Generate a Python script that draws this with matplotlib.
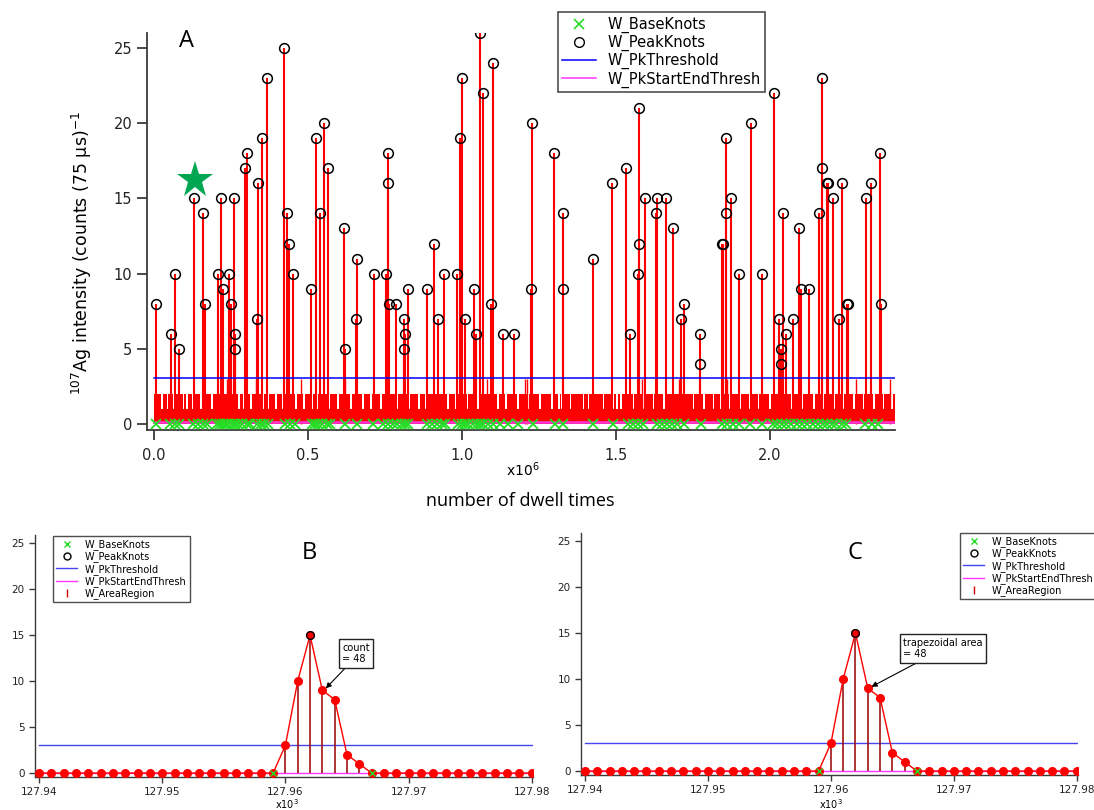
import matplotlib.pyplot as plt
import numpy as np
from matplotlib.lines import Line2D

# ---- panel A : whole time trace (x in units of 1e6 dwell times) ----
peak_x = [0.006, 0.055, 0.067, 0.081, 0.131, 0.159, 0.167, 0.208, 0.216, 0.224,
          0.242, 0.249, 0.259, 0.264, 0.263, 0.294, 0.301, 0.334, 0.339, 0.352,
          0.367, 0.422, 0.433, 0.438, 0.452, 0.510, 0.526, 0.538, 0.552, 0.564,
          0.618, 0.619, 0.659, 0.656, 0.714, 0.752, 0.759, 0.759, 0.763, 0.785,
          0.811, 0.815, 0.813, 0.826, 0.885, 0.910, 0.922, 0.943, 0.984, 0.993,
          0.999, 1.010, 1.040, 1.047, 1.057, 1.069, 1.094, 1.102, 1.134, 1.168,
          1.224, 1.228, 1.298, 1.328, 1.328, 1.425, 1.487, 1.533, 1.547, 1.576,
          1.576, 1.573, 1.593, 1.634, 1.631, 1.661, 1.685, 1.711, 1.722, 1.774,
          1.774, 1.844, 1.849, 1.857, 1.857, 1.874, 1.900, 1.938, 1.975, 2.013,
          2.030, 2.041, 2.035, 2.035, 2.051, 2.076, 2.093, 2.100, 2.128, 2.160,
          2.168, 2.168, 2.185, 2.190, 2.205, 2.223, 2.235, 2.250, 2.254, 2.311,
          2.327, 2.357, 2.361]
peak_y = [8, 6, 10, 5, 15, 14, 8, 10, 15, 9,
          10, 8, 15, 6, 5, 17, 18, 7, 16, 19,
          23, 25, 14, 12, 10, 9, 19, 14, 20, 17,
          13, 5, 11, 7, 10, 10, 18, 16, 8, 8,
          7, 6, 5, 9, 9, 12, 7, 10, 10, 19,
          23, 7, 9, 6, 26, 22, 8, 24, 6, 6,
          9, 20, 18, 14, 9, 11, 16, 17, 6, 21,
          12, 10, 15, 15, 14, 15, 13, 7, 8, 6,
          4, 12, 12, 19, 14, 15, 10, 20, 10, 22,
          7, 14, 5, 4, 6, 7, 13, 9, 9, 14,
          17, 23, 16, 16, 15, 7, 16, 8, 8, 15,
          16, 18, 8]

base_x = [0.006, 0.052, 0.068, 0.082, 0.128, 0.144, 0.160, 0.171, 0.206, 0.214,
          0.225, 0.234, 0.241, 0.252, 0.263, 0.274, 0.285, 0.301, 0.312, 0.335,
          0.346, 0.357, 0.371, 0.425, 0.442, 0.458, 0.512, 0.523, 0.534, 0.544,
          0.561, 0.571, 0.620, 0.658, 0.712, 0.745, 0.761, 0.777, 0.788, 0.804,
          0.815, 0.826, 0.885, 0.902, 0.918, 0.934, 0.945, 0.988, 0.999, 1.010,
          1.020, 1.037, 1.048, 1.058, 1.069, 1.085, 1.102, 1.123, 1.150, 1.183,
          1.232, 1.302, 1.329, 1.426, 1.489, 1.540, 1.556, 1.572, 1.589, 1.632,
          1.648, 1.665, 1.681, 1.697, 1.721, 1.775, 1.843, 1.859, 1.879, 1.900,
          1.935, 1.973, 2.011, 2.024, 2.038, 2.052, 2.067, 2.087, 2.103, 2.119,
          2.141, 2.157, 2.173, 2.186, 2.200, 2.216, 2.233, 2.247, 2.308, 2.330,
          2.352]

# background: 1 count everywhere, 2 counts except in these short gaps
gap_x = [0.026, 0.044, 0.064, 0.080, 0.096, 0.107, 0.126, 0.153, 0.188, 0.277,
         0.293, 0.314, 0.337, 0.353, 0.370, 0.396, 0.418, 0.436, 0.461, 0.488,
         0.513, 0.531, 0.553, 0.569, 0.597, 0.640, 0.678, 0.705, 0.737, 0.759,
         0.791, 0.829, 0.861, 0.883, 0.921, 0.954, 0.981, 1.018, 1.051, 1.083,
         1.116, 1.143, 1.181, 1.216, 1.254, 1.292, 1.314, 1.325, 1.352, 1.395,
         1.411, 1.424, 1.460, 1.490, 1.503, 1.516, 1.557, 1.590, 1.622, 1.655,
         1.687, 1.720, 1.752, 1.785, 1.817, 1.839, 1.871, 1.904, 1.936, 1.963,
         2.001, 2.039, 2.071, 2.104, 2.142, 2.174, 2.207, 2.239, 2.272, 2.304,
         2.337, 2.369, 2.396]
spike3_x = [0.236, 0.332, 0.477, 0.620, 1.080, 1.205, 1.210, 1.584, 1.705, 1.860,
            2.279, 2.391]
record_end = 2.406
threshold = 3.05
start_end_thresh = 0.1

# ---- panels B / C : zoom on one peak ----
dwell = np.arange(127940, 127981)
counts = [0, 0, 0, 0, 0, 0, 0, 0, 0, 0, 0, 0, 0, 0, 0, 0, 0, 0, 0, 0,
          3, 10, 15, 9, 8, 2, 1, 0, 0, 0, 0, 0, 0, 0, 0, 0, 0, 0, 0, 0, 0]
area_x = [127960, 127961, 127962, 127963, 127964, 127965, 127966]
area_y = [3, 10, 15, 9, 8, 2, 1]
peak_knot = (127962, 15)
base_knots = [127959, 127967]
note_b = "count\n= 48"
note_c = "trapezoidal area\n= 48"

W, H = 1094, 810
fig = plt.figure(figsize=(W / 100, H / 100), dpi=100)

GREEN = '#22dd22'
spine_col = '#3a3a3a'


def px_rect(x0, y0, x1, y1):
    return [x0 / W, 1 - y1 / H, (x1 - x0) / W, (y1 - y0) / H]


def style_axes(ax, ticklen, fs, lw):
    for s in ['top', 'right']:
        ax.spines[s].set_visible(False)
    for s in ['left', 'bottom']:
        ax.spines[s].set_color(spine_col)
        ax.spines[s].set_linewidth(lw)
    ax.tick_params(direction='out', length=ticklen, width=lw, color=spine_col,
                   labelsize=fs, labelcolor='#222222')


# ---------------- panel A ----------------
axA = fig.add_axes(px_rect(147, 33, 895, 430))
axA.set_xlim(-0.0227, 2.406)
axA.set_ylim(-0.40, 26.0)
style_axes(axA, 7, 10.5, 1.3)

axA.fill_between([0, record_end], 0, 1, color='red', lw=0, zorder=2)
g = np.sort(np.array(gap_x))
gw = 0.0055
starts = np.concatenate([[0], g + gw / 2])
ends = np.concatenate([g - gw / 2, [record_end]])
axA.bar(starts, 1, width=ends - starts, bottom=1, align='edge', color='red',
        lw=0, zorder=2)
axA.vlines(spike3_x, 0, 3, color='red', lw=1.0, zorder=2)
axA.vlines(peak_x, 0, peak_y, color='red', lw=1.5, zorder=2)
axA.plot([0, record_end], [start_end_thresh] * 2, color='#ff33cc', lw=2.0, zorder=3)
axA.plot([0, record_end], [threshold] * 2, color='blue', lw=1.1, zorder=3)
axA.plot(base_x, [0] * len(base_x), 'x', color=GREEN, ms=6.5, mew=1.3, zorder=4)
axA.plot(peak_x, peak_y, 'o', mfc='none', mec='black', ms=7, mew=1.1, zorder=5)

axA.set_xticks([0, 0.5, 1.0, 1.5, 2.0])
axA.set_xticklabels(['0.0', '0.5', '1.0', '1.5', '2.0'])
axA.set_yticks([0, 5, 10, 15, 20, 25])
axA.tick_params(axis='x', pad=6)

axA.text(0.105, 25.5, 'A', fontsize=17, family='Open Sans', va='center', ha='center')
axA.plot([0.133], [16.2], marker='*', color='#00a651', ms=28, mew=0, zorder=6)

fig.text(523 / W, 1 - 470 / H, r'x10$^{6}$', fontsize=10, ha='center', va='center')
fig.text(520 / W, 1 - 501 / H, 'number of dwell times', fontsize=13,
         family='Open Sans', ha='center', va='center')
fig.text(82 / W, 1 - 253 / H, r'$^{107}$Ag intensity (counts (75 µs)$^{-1}$',
         fontsize=12.5, rotation=90, ha='center', va='center')

hA = [Line2D([], [], ls='none', marker='x', color=GREEN, ms=7, mew=1.2),
      Line2D([], [], ls='none', marker='o', mfc='none', mec='black', ms=7),
      Line2D([], [], color='blue', lw=1.1),
      Line2D([], [], color='#ff33ff', lw=1.1)]
lA = ['W_BaseKnots', 'W_PeakKnots', 'W_PkThreshold', 'W_PkStartEndThresh']
legA = axA.legend(hA, lA, loc='lower left', bbox_to_anchor=(558 / W, 1 - 92 / H),
                  bbox_transform=fig.transFigure, fontsize=10.5, frameon=True,
                  fancybox=False, edgecolor='#222222', borderaxespad=0,
                  handlelength=2.3, labelspacing=0.14, borderpad=0.3)
legA.get_frame().set_linewidth(1.2)


# ---------------- panels B and C ----------------
def zoom_panel(rect, note, note_xy, label_xy, legend_xy, offset_x):
    ax = fig.add_axes(rect)
    ax.set_xlim(127939.675, 127980.1)
    ax.set_ylim(-0.43, 25.9)
    style_axes(ax, 4, 7.5, 1.0)
    ax.plot([127940, 127980], [0.05] * 2, color='#ff33ff', lw=1.0, zorder=1)
    ax.plot([127940, 127980], [threshold] * 2, color='#4444ee', lw=1.0, zorder=1)
    ax.vlines(area_x, 0, area_y, color='#990000', lw=1.1, zorder=2)
    ax.plot(dwell, counts, color='red', lw=1.0, marker='o', ms=5.5, mfc='red',
            mec='red', zorder=3)
    ax.plot([peak_knot[0]], [peak_knot[1]], 'o', mfc='none', mec='black', ms=5.5,
            mew=1.0, zorder=4)
    ax.plot(base_knots, [0, 0], 'x', color=GREEN, ms=4.5, mew=1.0, zorder=4)
    ax.set_xticks([127940, 127950, 127960, 127970, 127980])
    ax.set_xticklabels(['127.94', '127.95', '127.96', '127.97', '127.98'])
    ax.set_yticks([0, 5, 10, 15, 20, 25])
    ax.tick_params(axis='x', pad=3)
    ax.annotate(note, xy=(127963.2, 9.1), xytext=note_xy, fontsize=7,
                ha='left', va='top',
                bbox=dict(boxstyle='square,pad=0.35', fc='white', ec='#222222', lw=1.0),
                arrowprops=dict(arrowstyle='-|>', color='black', lw=0.8,
                                mutation_scale=8, shrinkA=0, shrinkB=1,
                                relpos=(0.25, 0)), zorder=6)
    fig.text(label_xy[0] / W, 1 - label_xy[1] / H, label_xy[2], fontsize=17,
             family='Open Sans', ha='center', va='center')
    fig.text(offset_x / W, 1 - 804 / H, r'x10$^{3}$', fontsize=7, ha='center',
             va='center')
    hB = [Line2D([], [], ls='none', marker='x', color=GREEN, ms=5, mew=1.0),
          Line2D([], [], ls='none', marker='o', mfc='none', mec='black', ms=5),
          Line2D([], [], color='#4444ee', lw=1.0),
          Line2D([], [], color='#ff33ff', lw=1.0),
          Line2D([], [], ls='none', marker='|', color='#cc0000', ms=6, mew=1.0)]
    lB = ['W_BaseKnots', 'W_PeakKnots', 'W_PkThreshold', 'W_PkStartEndThresh',
          'W_AreaRegion']
    leg = ax.legend(hB, lB, loc='upper left', bbox_to_anchor=legend_xy,
                    bbox_transform=fig.transFigure, fontsize=7, frameon=True,
                    fancybox=False, edgecolor='#222222', borderaxespad=0,
                    handlelength=2.2, labelspacing=0.15, borderpad=0.3)
    leg.get_frame().set_linewidth(1.0)
    return ax


zoom_panel(px_rect(35, 535, 533, 777), note_b, (127964.6, 14.2),
           (309, 553, 'B'), (53 / W, 1 - 536 / H), 287)
zoom_panel(px_rect(581, 533, 1078, 775), note_c, (127965.9, 14.5),
           (855, 553, 'C'), (960 / W, 1 - 533 / H), 831)

fig.savefig('out.png', dpi=100)
